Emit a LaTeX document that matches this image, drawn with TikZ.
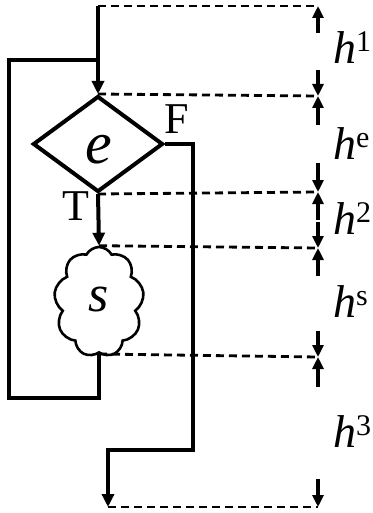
\documentclass[tikz,border=0pt]{standalone}
\usepackage{fontspec}
\setmainfont{Liberation Serif}
\usetikzlibrary{shapes.geometric,shapes.symbols,arrows.meta,calc}
\newcommand{\hlab}[1]{\fontsize{46}{46}\selectfont\textit{h}\raisebox{12pt}{\fontsize{30}{30}\selectfont #1}}
\begin{document}
\begin{tikzpicture}[x=1pt,y=-1pt,
  mainline/.style={line width=4pt},
  tip/.style={-{Triangle[length=13pt,width=12pt]}},
  dashline/.style={line width=2.8pt,dash pattern=on 8pt off 5pt},
  dimarrow/.style={line width=3.2pt,-{Triangle[length=12pt,width=11pt]}},
  lab/.style={font=\fontsize{44}{44}\selectfont,inner sep=0pt}]
\useasboundingbox (0,0) rectangle (372,513);
% shapes
\node[draw,line width=4pt,diamond,minimum width=130pt,minimum height=96pt,inner sep=0pt] (d) at (98,144) {};
\node[inner sep=0pt] (et) at (99,150) {\fontsize{60}{60}\selectfont\textit{e}};
\node[draw,line width=2.6pt,cloud,cloud puffs=9,cloud puff arc=125,cloud ignores aspect,minimum width=90pt,minimum height=110pt,inner sep=0pt] (c) at (99,302) {};
\node[inner sep=0pt] (st) at (99,300) {\fontsize{52}{52}\selectfont\textit{s}};
\node[lab] (T) at (76,206) {T};
\node[lab] (F) at (177,119) {F};
% coordinates
\coordinate (top) at (98,6);
\coordinate (end) at (108,507);
\coordinate (r0) at (318,6);
\coordinate (r1) at (318,96);
\coordinate (r2) at (318,192);
\coordinate (r3) at (318,248);
\coordinate (r4) at (318,357);
\coordinate (r5) at (318,507);
% flow lines
\draw[mainline,tip] (top) -- (d.north);
\draw[mainline,tip] (d.south) -- (c.north);
\draw[mainline] (c.south) |- (9,398) -- (9,60) -- (98,60);
\draw[mainline,tip] (d.east) -| (193,450) -| (end);
% dashed guides
\draw[dashline] (top) -- (r0);
\draw[dashline] (d.north) -- (r1);
\draw[dashline] (d.south) -- (r2);
\draw[dashline] (c.north) -- (r3);
\draw[dashline] (c.south) -- (r4);
\draw[dashline] (end) -- (r5);
% dimension arrows
\draw[dimarrow] ($(r0)+(0,27)$) -- (r0);
\draw[dimarrow] ($(r1)+(0,-26)$) -- (r1);
\draw[dimarrow] ($(r1)+(0,29)$) -- (r1);
\draw[dimarrow] ($(r2)+(0,-29)$) -- (r2);
\draw[dimarrow] ($(r2)+(0,28)$) -- (r2);
\draw[dimarrow] ($(r3)+(0,-26)$) -- (r3);
\draw[dimarrow] ($(r3)+(0,28)$) -- (r3);
\draw[dimarrow] ($(r4)+(0,-26)$) -- (r4);
\draw[dimarrow] ($(r4)+(0,30)$) -- (r4);
\draw[dimarrow] ($(r5)+(0,-28)$) -- (r5);
% labels
\node[anchor=base west,inner sep=0pt] (l1) at (333,64) {\hlab{1}};
\node[anchor=base west,inner sep=0pt] (le) at (333,159) {\hlab{e}};
\node[anchor=base west,inner sep=0pt] (l2) at (333,234) {\hlab{2}};
\node[anchor=base west,inner sep=0pt] (ls) at (333,317) {\hlab{s}};
\node[anchor=base west,inner sep=0pt] (l3) at (333,447) {\hlab{3}};
\end{tikzpicture}
\end{document}
